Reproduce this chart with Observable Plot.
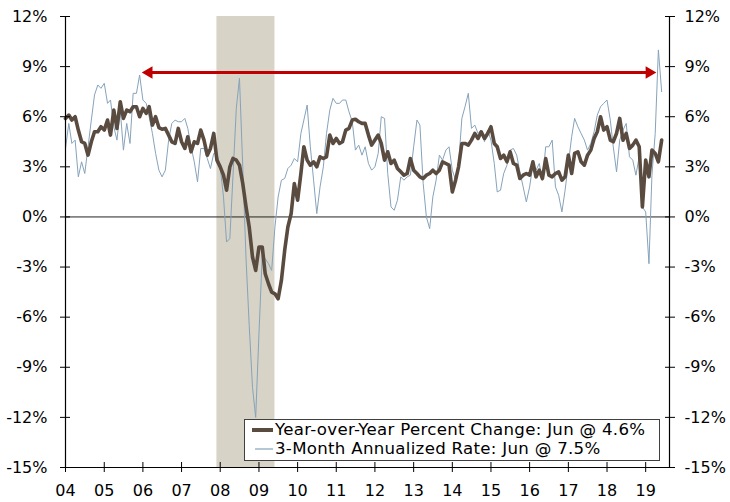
<!DOCTYPE html>
<html><head><meta charset="utf-8">
<script src="https://cdn.jsdelivr.net/npm/d3@7"></script>
<script src="https://cdn.jsdelivr.net/npm/@observablehq/plot@0.6"></script>
<style>
html,body{margin:0;padding:0;background:#fff;}
#wrap{position:relative;width:730px;height:502px;}
#legend{position:absolute;left:244px;top:419px;width:416px;height:42px;border:1px solid #404040;background:#fff;box-sizing:border-box;font-family:"DejaVu Sans",sans-serif;font-size:16.6px;letter-spacing:0.3px;line-height:18px;color:#000;}
.row{position:absolute;left:0;height:18px;line-height:18px;display:flex;align-items:center;white-space:nowrap;}
.sw{display:inline-block;margin-right:2px;}
</style></head>
<body><div id="wrap"></div>
<script>
// ---- data ----
const yearLabels = ["04","05","06","07","08","09","10","11","12","13","14","15","16","17","18","19"];
const yTicks = [-15,-12,-9,-6,-3,0,3,6,9,12];
const seriesNames = ["Year-over-Year Percent Change: Jun @ 4.6%", "3-Month Annualized Rate: Jun @ 7.5%"];

// Year-over-year % change, monthly Jan 2004 - Jun 2019
const yoy = [
  5.9, 6.1, 5.8, 6.0, 5.2, 4.5, 4.4, 3.7, 4.5, 5.1, 5.1, 5.4,
  5.2, 5.8, 4.9, 6.4, 5.3, 6.9, 5.9, 6.4, 6.3, 6.6, 6.6, 6.0,
  6.5, 6.2, 6.6, 5.5, 6.0, 5.35, 5.25, 5.3, 4.9, 4.5, 4.4, 5.3,
  4.5, 4.1, 4.8, 3.9, 4.5, 4.4, 5.2, 4.6, 3.7, 4.1, 5.0, 3.4,
  3.0, 2.5, 1.6, 3.0, 3.5, 3.4, 3.1, 2.0, 0.6, -0.6, -2.4, -3.2,
  -1.8, -1.8, -3.4, -4.0, -4.5, -4.6, -4.9, -3.8, -2.0, -0.6, 0.2, 2.0,
  1.0, 2.6, 4.2, 3.4, 3.1, 3.3, 3.0, 3.6, 3.5, 3.6, 4.9, 4.4,
  4.7, 4.4, 4.5, 5.2, 5.3, 5.8, 5.85, 5.7, 5.6, 5.6, 4.9, 4.3,
  4.6, 4.9, 4.4, 3.4, 3.9, 3.2, 3.4, 2.9, 2.7, 2.5, 2.6, 3.5,
  2.8, 2.6, 2.4, 2.3, 2.5, 2.6, 2.8, 2.6, 2.8, 3.3, 3.2, 3.1,
  1.5, 2.2, 3.0, 4.4, 4.4, 4.3, 4.6, 5.0, 4.7, 5.1, 4.7, 5.0,
  5.4, 4.4, 4.2, 3.5, 3.7, 3.3, 3.9, 3.2, 3.1, 2.3, 2.5, 2.6,
  2.5, 3.3, 2.4, 2.8, 2.3, 3.5, 2.5, 2.4, 2.6, 2.7, 2.2, 2.4,
  3.7, 2.6, 3.8, 3.9, 3.3, 3.1, 3.7, 4.0, 4.7, 5.1, 6.0, 5.2,
  5.4, 4.6, 4.5, 5.0, 5.9, 4.6, 5.0, 4.1, 4.3, 4.6, 4.2, 0.6,
  3.4, 2.4, 4.0, 3.8, 3.3, 4.6
];

// 3-month annualized rate, monthly Jan 2004 - Jun 2019
const threeMonth = [
  4.1, 5.6, 4.4, 4.6, 2.4, 3.3, 2.6, 4.2, 5.8, 7.3, 7.9, 7.7,
  8.0, 6.8, 7.0, 5.4, 4.6, 6.4, 4.0, 5.6, 4.4, 7.4, 7.4, 8.5,
  7.0, 6.8, 6.0, 5.0, 3.8, 2.8, 2.4, 2.8, 4.6, 5.6, 5.8, 5.7,
  5.7, 5.9, 5.3, 4.2, 3.3, 2.1, 4.1, 4.1, 3.5, 2.9, 3.8, 3.8,
  3.0, 1.2, -1.5, -1.3, 2.5, 6.5, 8.3, 3.0, -2.5, -6.5, -10.2, -12.0,
  -7.0, -2.3, -2.5, -2.8, -3.2, -0.6, 1.2, 2.2, 2.3, 2.9, 3.1, 3.5,
  3.3, 5.0, 5.8, 6.7, 4.2, 2.2, 0.2, 1.8, 3.0, 5.0, 6.4, 7.1,
  6.8, 6.8, 7.0, 7.0, 6.3, 5.7, 4.0, 4.3, 3.7, 4.2, 3.2, 2.8,
  3.0, 3.8, 6.0, 5.9, 2.6, 0.6, 0.4, 1.0, 2.4, 2.2, 2.4, 2.5,
  4.2, 5.8, 5.5, 2.0, 0.0, -0.7, 1.2, 2.2, 3.7, 3.4, 4.0, 4.2,
  2.8, 2.2, 3.1, 5.9, 6.6, 7.4, 5.3, 5.5, 5.0, 5.2, 4.5, 5.2,
  4.6, 3.2, 1.5, 1.6, 2.6, 3.1, 4.0, 4.1, 3.7, 2.7, 1.8, 0.9,
  1.8, 3.1, 2.8, 3.2, 2.2, 4.2, 4.2, 4.6, 1.8, 1.3, 0.3, 1.6,
  3.2, 4.8, 5.9, 5.4, 5.0, 4.6, 4.0, 4.4, 5.1, 6.1, 6.6, 6.8,
  7.0, 5.8, 4.2, 2.7, 4.6, 5.2, 5.6, 3.6, 3.4, 2.5, 3.6, 0.6,
  0.3, -2.8, 2.5, 5.0, 10.0, 7.5
];

// recession shading and range arrow
const recessionStart = ["2007-12-01"];
const recessionEnd = ["2009-06-01"];
const arrowFrom = ["2006-01-01"];
const arrowTo = ["2019-04-01"];
const arrowLevel = [8.65];

// ---- build ----
const months = d3.utcMonths(new Date(Date.UTC(2004,0,1)), new Date(Date.UTC(2019,6,1)));
const data = months.map((d,i) => ({date:d, yoy:yoy[i], m3:threeMonth[i]}));
const xStart = new Date(Date.UTC(2004,0,1));
const xEnd = new Date(Date.UTC(2019,7,14));
const xTicks = yearLabels.map(s => new Date(Date.UTC(2000 + (+s), 0, 1)));
const recession = recessionStart.map((s,i) => ({start:new Date(s), end:new Date(recessionEnd[i])}));
const arrow = arrowFrom.map((s,i) => ({from:new Date(s), to:new Date(arrowTo[i]), level:arrowLevel[i]}));

const FONT = '"DejaVu Sans",sans-serif';
const RED = "#c00000", BROWN = "#594b3f", BLUE = "#86a3bb";

const chart = Plot.plot({
  width:730, height:502,
  marginLeft:65, marginRight:61, marginTop:16, marginBottom:35,
  style:{fontFamily:FONT, fontSize:"16px", background:"#fff", color:"#000", overflow:"visible"},
  x:{type:"utc", domain:[xStart, xEnd]},
  y:{domain:[-15,12]},
  marks:[
    Plot.rect(recession, {x1:"start", x2:"end", fill:"#d7d3c6"}),
    Plot.ruleY([0], {stroke:"#222", strokeWidth:1}),
    Plot.line(data, {x:"date", y:"m3", stroke:BLUE, strokeWidth:1}),
    Plot.line(data, {x:"date", y:"yoy", stroke:BROWN, strokeWidth:3.6, strokeLinejoin:"round"}),
    Plot.ruleY(arrow, {y:"level", x1:"from", x2:"to", stroke:RED, strokeWidth:3, insetLeft:6, insetRight:6}),
    Plot.dot(arrow, {x:"to", y:"level", symbol:"triangle", rotate:90, r:4.6, fill:RED, stroke:null, dx:-6}),
    Plot.dot(arrow, {x:"from", y:"level", symbol:"triangle", rotate:-90, r:4.6, fill:RED, stroke:null, dx:6}),
    Plot.ruleX([xStart, xEnd], {stroke:"#000", strokeWidth:1.2}),
    Plot.ruleY([-15], {stroke:"#000", strokeWidth:1.2}),
    Plot.axisY({anchor:"left", ticks:yTicks, tickFormat:d => d + "%", tickSize:10, dx:5, tickPadding:13, label:null, stroke:"#000"}),
    Plot.axisY({anchor:"right", ticks:yTicks, tickFormat:d => d + "%", tickSize:10, dx:-5, tickPadding:10, label:null, stroke:"#000"}),
    Plot.axisX({ticks:xTicks, tickFormat:(d,i) => yearLabels[i], tickSize:10, dy:-5, tickPadding:12, label:null, stroke:"#000"})
  ]
});

const wrap = document.getElementById("wrap");
wrap.appendChild(chart);

const legend = document.createElement("div");
legend.id = "legend";
legend.innerHTML =
  `<div class="row" style="top:1px"><svg class="sw" width="22" height="10" style="margin-left:6px"><line x1="1" x2="22" y1="5" y2="5" stroke="${BROWN}" stroke-width="4"/></svg><span>${seriesNames[0]}</span></div>` +
  `<div class="row" style="top:20px"><svg class="sw" width="22" height="10" style="margin-left:6px"><line x1="4" x2="22" y1="5" y2="5" stroke="${BLUE}" stroke-width="1.2"/></svg><span>${seriesNames[1]}</span></div>`;
wrap.appendChild(legend);
</script>
</body></html>
